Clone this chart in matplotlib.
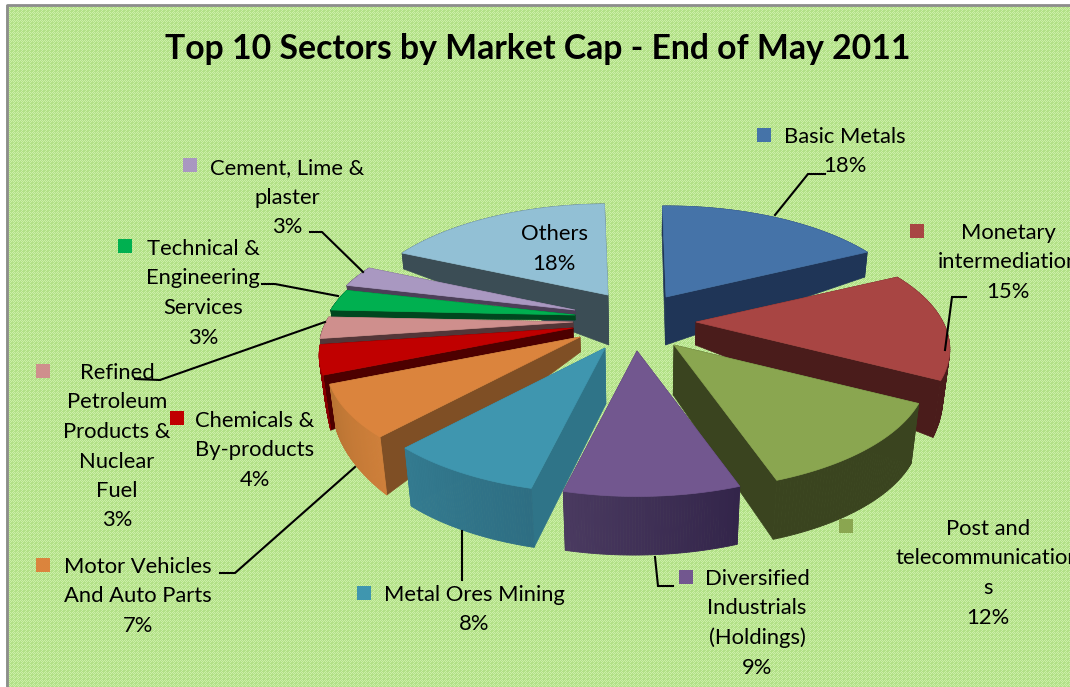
import matplotlib
matplotlib.use("Agg")
import matplotlib.pyplot as plt
import numpy as np
from matplotlib.colors import to_rgb
from matplotlib.patches import Rectangle

plt.rcParams['font.family'] = ['Lato', 'DejaVu Sans']

# clockwise from 12 o'clock
sectors = ["Basic Metals", "Monetary intermediation", "Post and telecommunications",
           "Diversified Industrials (Holdings)", "Metal Ores Mining", "Motor Vehicles And Auto Parts",
           "Chemicals & By-products", "Refined Petroleum Products & Nuclear Fuel",
           "Technical & Engineering Services", "Cement, Lime & plaster", "Others"]
shares = [18, 15, 12, 9, 8, 7, 4, 3, 3, 3, 18]

# colours: top, rim wall (start and end of the arc), cut wall
top_col = ["#4573A8", "#A84543", "#8AA650", "#72578F", "#3F96AF", "#DB843D", "#C00000", "#CF8F8D", "#00B050", "#A998C1", "#92C0D5"]
rim_col_a = ["#1F3557", "#4A1C1B", "#3A441F", "#33254A", "#2E6E83", "#CF7F3A", "#8A0000", "#533638", "#00471F", "#4C3F58", "#3B4D55"]
rim_col_b = ["#1F3557", "#4A1C1B", "#3A441F", "#4A3A60", "#347B90", "#B97433", "#8A0000", "#533638", "#00471F", "#4C3F58", "#3B4D55"]
cut_col = ["#1F3557", "#4A1C1B", "#3A441F", "#3F2D55", "#2F7488", "#7F4F25", "#4D0000", "#533638", "#00471F", "#4C3F58", "#3B4D55"]

# explode offset of each slice in px, and its thickness (apex, rim start, rim end)
explode_x = [41, 71, 49, 12, -20, -45, -52, -52, -50, -50, -17]
explode_y = [-25, 0, 23, 29, 26, 15, 6, 0, -7, -12, -27]
depth_apex = [48, 23, 50, 60, 56, 15, 12, 8, 5, 4, 50]
depth_start = [30, 30, 60, 58, 59, 58, 55, 10, 8, 5, 16]
depth_end = [25, 57, 59, 59, 58, 45, 10, 8, 5, 5, 50]

draw_order = [10, 9, 8, 7, 6, 5, 0, 1, 2, 4, 3]

cx, cy = 625, 322
R, A, K = 247, 112, 0.23
rot = -1.0
taper = 0.00045

label_lines = [["Basic Metals", "18%"], ["Monetary", "intermediation", "15%"],
               ["Post and", "telecommunication", "s", "12%"], ["Diversified", "Industrials", "(Holdings)", "9%"],
               ["Metal Ores Mining", "8%"], ["Motor Vehicles", "And Auto Parts", "7%"],
               ["Chemicals &", "By-products", "4%"], ["Refined", "Petroleum", "Products &", "Nuclear", "Fuel", "3%"],
               ["Technical &", "Engineering", "Services", "3%"], ["Cement, Lime &", "plaster", "3%"], ["Others", "18%"]]
label_x = [845, 1008, 988, 757, 474, 138, 255, 117, 203, 287, 554]
label_y = [137, 233, 529, 579, 595, 567, 421, 373, 249, 168, 234]
key_x = [764, 917, 846, 686, 364, 43, 177, 43, 125, 190, 503]
key_y = [135, 231, 526, 577, 593, 565, 418, 371, 246, 165, 232]

leaders = [([775, 808, 825], [215, 174, 174]), ([945, 952, 966], [350, 297, 297]),
           ([655, 658, 673], [557, 586, 586]), ([462, 462], [531, 580]),
           ([355, 235, 220], [467, 573, 573]), ([325, 160, 135], [322, 380, 379]),
           ([338, 275, 262], [296, 284, 284]), ([363, 322, 310], [272, 232, 232])]


def project(deg):
    # perspective view of the unit circle
    u = np.sin(np.radians(deg))
    v = np.cos(np.radians(deg))
    return R * u / (1 + K * v), -A * v / (1 + K * v)


def lower(x, d):
    # the bottom of a wall leans towards the middle of the chart
    return x - (x - 640) * d * taper


fig = plt.figure(figsize=(10.7, 6.87), dpi=100)
ax = fig.add_axes([0, 0, 1, 1])

# woven green background
tile = np.array([[0, 1, 0, 1], [1, 0, 0, 0], [0, 0, 0, 1], [1, 0, 1, 0]])
weave = np.tile(tile, (172, 268))[:682, :1064]
c0 = np.array([0.70, 0.88, 0.53])
c1 = np.array([0.80, 0.94, 0.66])
img = c0 + weave[..., None] * (c1 - c0)
ax.imshow(img, extent=(6, 1070, 687, 5), interpolation="nearest", aspect="auto", zorder=0)
ax.set_xlim(0, 1070)
ax.set_ylim(687, 0)
ax.axis("off")
ax.plot([6.5, 6.5, 1070], [687, 5.2, 5.2], color="#8C8C8C", lw=2, zorder=1)

edges = np.concatenate([[0], np.cumsum(shares)]) / sum(shares) * 360 + rot
n_pts = 60

for i in draw_order:
    z = 2 + draw_order.index(i)
    ax0 = cx + explode_x[i]
    ay0 = cy + explode_y[i]
    deg = np.linspace(edges[i], edges[i + 1], n_pts)
    px, py = project(deg)
    rx = ax0 + px
    ry = ay0 + py
    d = np.linspace(depth_start[i], depth_end[i], n_pts)
    bx = lower(rx, d)
    by = ry + d
    # the two cut walls
    for j in [0, -1]:
        ax.fill([ax0, rx[j], bx[j], lower(ax0, depth_apex[i])], [ay0, ry[j], by[j], ay0 + depth_apex[i]],
                color=cut_col[i], lw=0.5, zorder=z)
    # rim wall, in strips for the shading
    ca = np.array(to_rgb(rim_col_a[i]))
    cb = np.array(to_rgb(rim_col_b[i]))
    for k in range(n_pts - 1):
        ax.fill([rx[k], rx[k + 1], bx[k + 1], bx[k]], [ry[k], ry[k + 1], by[k + 1], by[k]],
                color=ca + (cb - ca) * k / (n_pts - 2), lw=0.6, zorder=z)
    # top face
    ax.fill(np.r_[ax0, rx], np.r_[ay0, ry], color=top_col[i], lw=0.5, zorder=z)

for xs, ys in leaders:
    ax.plot(xs, ys, color="black", lw=1.5, zorder=20, solid_joinstyle="miter")

for i in range(len(sectors)):
    ax.add_patch(Rectangle((key_x[i] - 7, key_y[i] - 7), 14, 14, color=top_col[i], lw=0, zorder=21))
    for n, line in enumerate(label_lines[i]):
        ax.text(label_x[i], label_y[i] + n * 29.5, line, ha="center", va="center",
                fontsize=15.8, color="black", zorder=22)

ax.text(538, 49, "Top 10 Sectors by Market Cap - End of May 2011", ha="center", va="center",
        fontsize=24.3, fontweight="bold", color="black", zorder=22)

fig.savefig("out.png", dpi=100)
